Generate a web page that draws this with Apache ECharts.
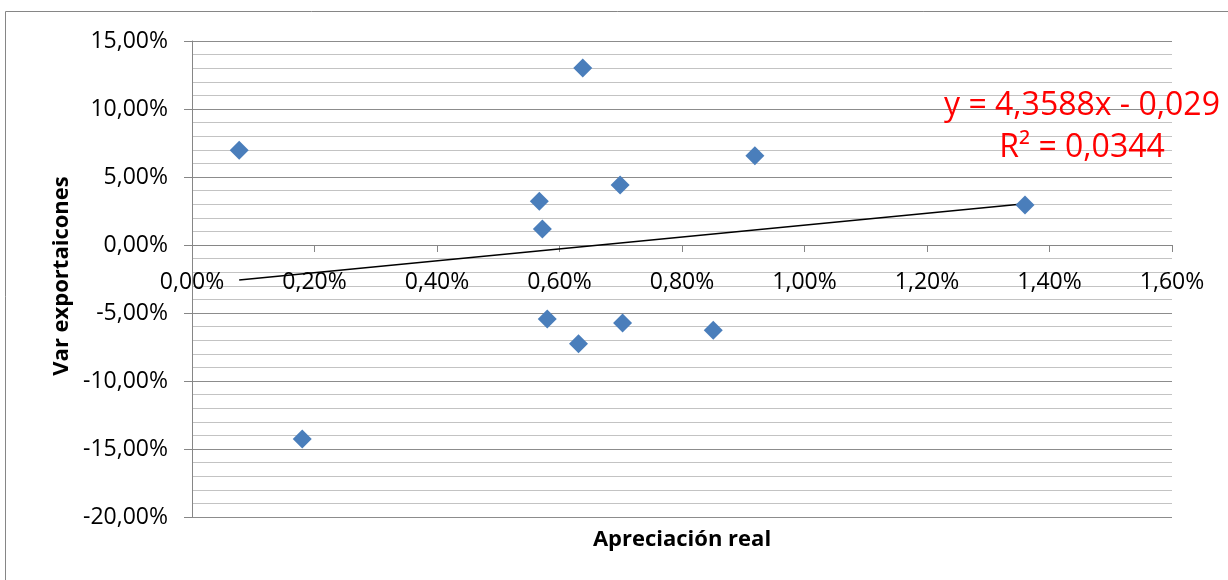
<!DOCTYPE html>
<html>
<head>
<meta charset="utf-8">
<script src="https://cdn.jsdelivr.net/npm/echarts@6/dist/echarts.min.js"></script>
<style>
html,body{margin:0;padding:0;background:#fff;}
#chart{width:1228px;height:580px;}
</style>
</head>
<body>
<div id="chart"></div>
<script>
// Data
const apreciacionReal = [0.00077, 0.00180, 0.00638, 0.00919, 0.00567, 0.00699, 0.00572, 0.01360, 0.00580, 0.00703, 0.00631, 0.00851];
const varExportaciones = [0.0696, -0.1426, 0.1301, 0.0657, 0.0321, 0.0441, 0.0118, 0.0294, -0.0544, -0.0574, -0.0726, -0.0627];
// Trend line endpoints as drawn in the reference
const trendX = [0.00077, 0.01360];
const trendY = [-0.0257, 0.0303];
const equationText = 'y = 4,3588x - 0,029';
const r2Text = 'R² = 0,0344';
const xTitle = 'Apreciación real';
const yTitle = 'Var exportaicones';

const points = apreciacionReal.map((x, i) => [x, varExportaciones[i]]);
const trend = trendX.map((x, i) => [x, trendY[i]]);

function pct(v) {
  if (Math.abs(v) < 1e-12) v = 0;
  return (v * 100).toFixed(2).replace('.', ',') + '%';
}

const FONT = 'Open Sans';
const Y_MIN = -0.2, Y_MAX = 0.15;
const chart = echarts.init(document.getElementById('chart'), null, {renderer: 'canvas'});
chart.setOption({
  animation: false,
  backgroundColor: '#ffffff',
  grid: {left: 192, right: 56, top: 41, bottom: 63, containLabel: false, outerBoundsMode: 'none'},
  xAxis: {
    type: 'value',
    min: 0, max: 0.016, interval: 0.002,
    position: 'bottom',
    offset: 0,
    axisLine: {onZero: false, lineStyle: {color: '#868686', width: 1}},
    axisTick: {show: true, length: 7, lineStyle: {color: '#868686'}},
    axisLabel: {formatter: pct, color: '#000', fontFamily: FONT, fontSize: 23, margin: 26},
    splitLine: {show: false}
  },
  yAxis: {
    type: 'value',
    min: Y_MIN, max: Y_MAX, interval: 0.05,
    axisLine: {show: true, onZero: false, lineStyle: {color: '#868686', width: 1}},
    axisTick: {show: true, length: 8, lineStyle: {color: '#868686'}},
    axisLabel: {formatter: pct, color: '#000', fontFamily: FONT, fontSize: 23, margin: 24},
    splitLine: {show: true, lineStyle: {color: '#8c8c8c', width: 1}},
    minorTick: {show: false, splitNumber: 5},
    minorSplitLine: {show: true, lineStyle: {color: '#c3c3c3', width: 1}}
  },
  series: [
    {
      type: 'line',
      data: trend,
      symbol: 'none',
      lineStyle: {color: '#000', width: 1.5},
      z: 3,
      silent: true
    },
    {
      type: 'scatter',
      data: points,
      symbol: 'diamond',
      symbolSize: 19,
      itemStyle: {color: '#4a7ebb', opacity: 1},
      z: 4
    }
  ],
  graphic: [
    {
      type: 'rect',
      shape: {x: 5.5, y: 11.5, width: 1260, height: 620},
      style: {fill: 'none', stroke: '#868686', lineWidth: 1},
      silent: true
    },
    {
      type: 'text',
      x: 682, y: 540,
      style: {text: xTitle, fill: '#000', font: 'bold 22px "Open Sans"', textAlign: 'center', textVerticalAlign: 'middle'}
    },
    {
      type: 'text',
      x: 62, y: 276,
      rotation: Math.PI / 2,
      style: {text: yTitle, fill: '#000', font: 'bold 22px "Open Sans"', textAlign: 'center', textVerticalAlign: 'middle'}
    },
    {
      type: 'text',
      x: 1082, y: 106,
      style: {text: equationText, fill: '#ff0000', font: '32px "Open Sans"', textAlign: 'center', textVerticalAlign: 'middle'},
      z: 10
    },
    {
      type: 'text',
      x: 1082, y: 148,
      style: {text: r2Text, fill: '#ff0000', font: '32px "Open Sans"', textAlign: 'center', textVerticalAlign: 'middle'},
      z: 10
    }
  ]
});
// Move the x axis (line, ticks, labels) up to where y = 0, using the library's scale
const yZero = chart.convertToPixel({yAxisIndex: 0}, 0);
const yBottom = chart.convertToPixel({yAxisIndex: 0}, Y_MIN);
chart.setOption({xAxis: {offset: -(yBottom - yZero)}});
</script>
</body>
</html>
